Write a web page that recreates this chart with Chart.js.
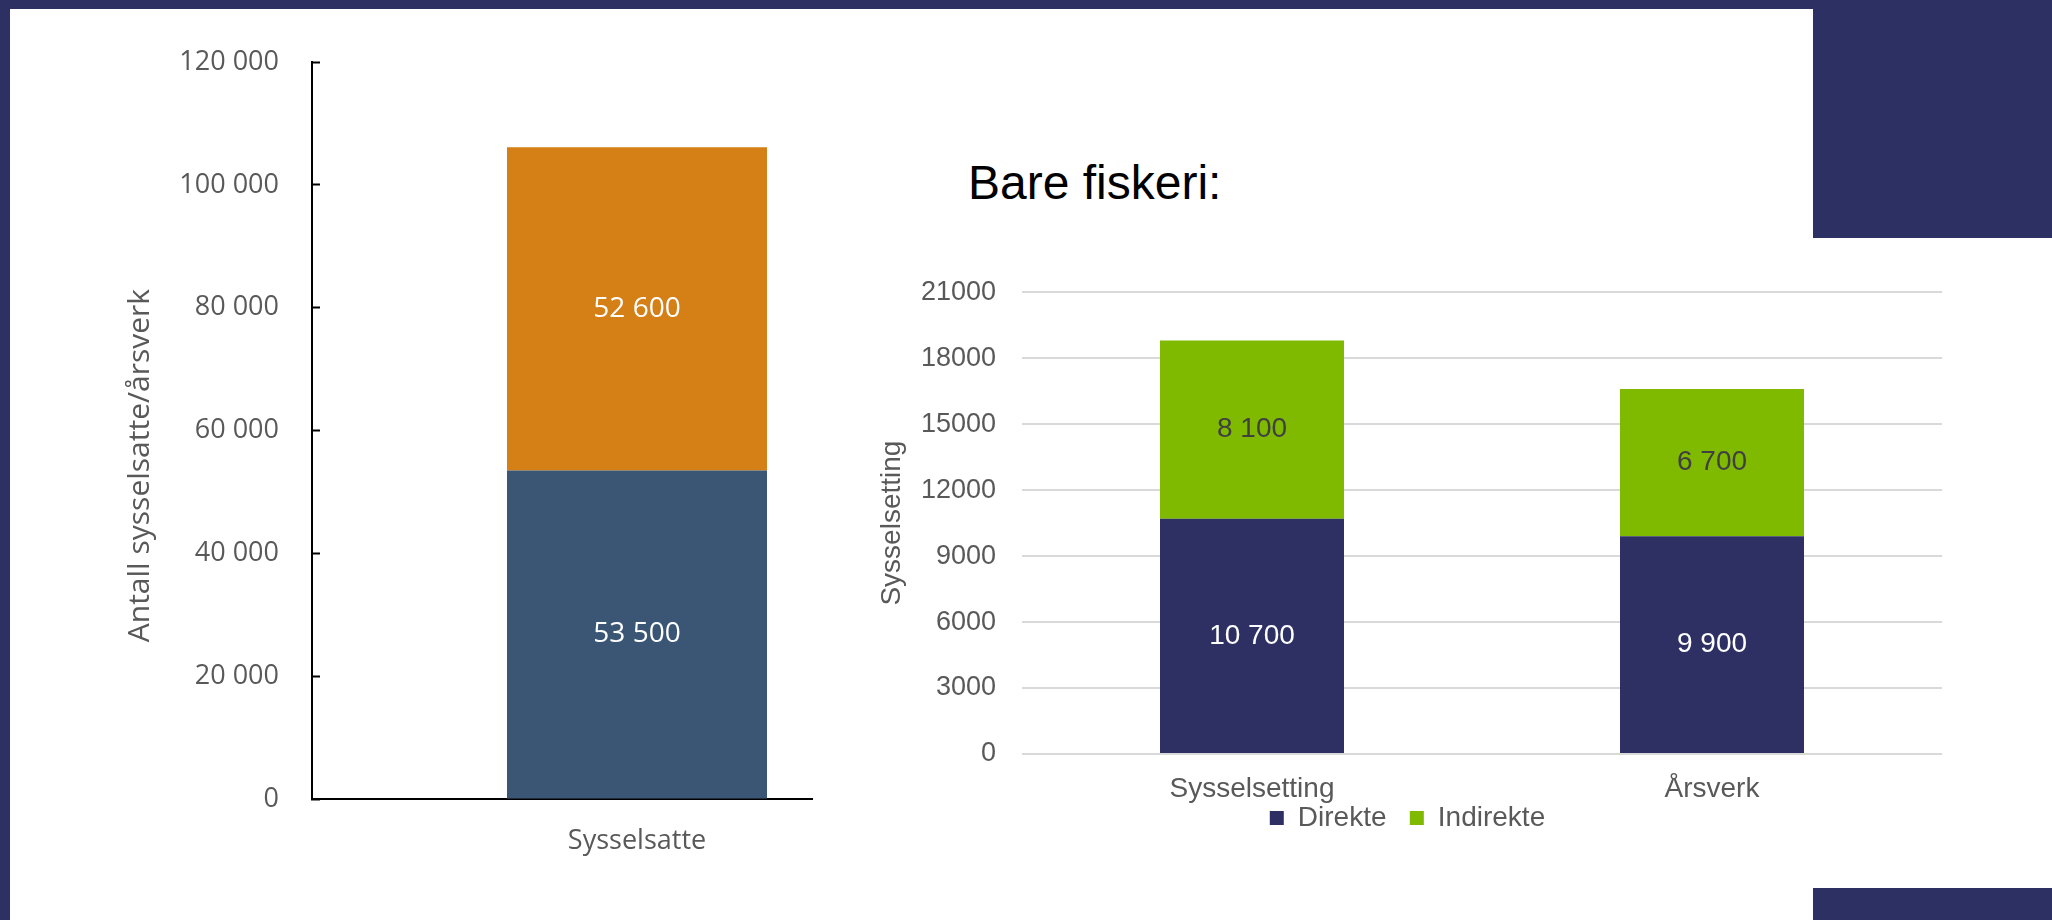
<!DOCTYPE html>
<html>
<head>
<meta charset="utf-8">
<script src="https://cdn.jsdelivr.net/npm/chart.js@4"></script>
<style>
  html, body { margin: 0; padding: 0; background: #fff; }
  body { width: 2052px; height: 920px; position: relative; overflow: hidden; }
  canvas { position: absolute; }
  #venstre { left: 0; top: 0; z-index: 1; }
  #hoyre { left: 813px; top: 250px; z-index: 2; background: #fff; }
  .ramme { position: absolute; background: #2D3063; z-index: 5; }
  #tittel { position: absolute; left: 968px; top: 159px; font: 48px "Liberation Sans", Arial, sans-serif; line-height: 1; color: #000; white-space: nowrap; }
</style>
</head>
<body>
<div class="ramme" style="left:0;top:0;width:2052px;height:9px"></div>
<div class="ramme" style="left:0;top:0;width:10px;height:920px"></div>
<div class="ramme" style="left:1813px;top:0;width:239px;height:238px"></div>
<div class="ramme" style="left:1813px;top:888px;width:239px;height:32px"></div>
<div id="tittel">Bare fiskeri:</div>
<canvas id="venstre" width="1000" height="920"></canvas>
<canvas id="hoyre" width="1147" height="610"></canvas>
<script>
// venstre figur: alle sysselsatte
const kategorierAlle = ["Sysselsatte"];
const direkteAlle = [53500];
const indirekteAlle = [52600];
const maksAlle = 120000;
const stegAlle = 20000;

// høyre figur: bare fiskeri
const kategorierFiskeri = ["Sysselsetting", "Årsverk"];
const direkteFiskeri = [10700, 9900];
const indirekteFiskeri = [8100, 6700];
const maksFiskeri = 21000;
const stegFiskeri = 3000;

function medMellomrom(v) {
    return String(v).replace(/\B(?=(\d{3})+(?!\d))/g, " ");
}

// skriver verdien midt i hvert søylesegment
const segmentTall = {
    id: "segmentTall",
    afterDatasetsDraw(chart, args, opts) {
        const ctx = chart.ctx;
        ctx.save();
        ctx.font = opts.font;
        ctx.textAlign = "center";
        ctx.textBaseline = "middle";
        chart.data.datasets.forEach((ds, i) => {
            const meta = chart.getDatasetMeta(i);
            meta.data.forEach((bar, j) => {
                ctx.fillStyle = ds.tallFarge;
                ctx.fillText(medMellomrom(ds.data[j]), bar.x, (bar.y + bar.base) / 2);
            });
        });
        ctx.restore();
    }
};

const gra = "#595959";
const calibriAktig = "'Open Sans', sans-serif";
const arial = "'Liberation Sans', Arial, sans-serif";

new Chart(document.getElementById("venstre").getContext("2d"), {
    type: "bar",
    data: {
        labels: kategorierAlle,
        datasets: [
            { label: "Direkte", data: direkteAlle, backgroundColor: "#3A5674", borderWidth: 0, tallFarge: "#fff" },
            { label: "Indirekte", data: indirekteAlle, backgroundColor: "#D57F17", borderWidth: 0, tallFarge: "#fff" }
        ]
    },
    plugins: [segmentTall],
    options: {
        responsive: false,
        animation: false,
        layout: { padding: { left: 20, top: 62, right: 38, bottom: 0 } },
        datasets: { bar: { categoryPercentage: 1, barPercentage: 0.4 } },
        plugins: {
            legend: { display: false },
            tooltip: { enabled: false },
            segmentTall: { font: "28px " + calibriAktig }
        },
        scales: {
            x: {
                stacked: true,
                grid: { display: false },
                border: { display: true, color: "#000", width: 2 },
                ticks: { color: gra, font: { family: calibriAktig, size: 27 }, padding: 18 },
                afterFit: s => { s.height = 121; }
            },
            y: {
                stacked: true,
                min: 0,
                max: maksAlle,
                grid: { display: true, drawOnChartArea: false, drawTicks: true, tickLength: -8, tickColor: "#000", tickWidth: 2 },
                border: { display: true, color: "#000", width: 2 },
                ticks: { stepSize: stegAlle, color: gra, font: { family: calibriAktig, size: 27 }, padding: 41,
                         callback: v => medMellomrom(v) },
                title: { display: true, text: "Antall sysselsatte/årsverk" + "\u00a0".repeat(9), color: gra,
                         font: { family: calibriAktig, size: 30 }, padding: { top: 102, bottom: 0 } },
                afterFit: s => { s.width = 292; }
            }
        }
    }
});

new Chart(document.getElementById("hoyre").getContext("2d"), {
    type: "bar",
    data: {
        labels: kategorierFiskeri,
        datasets: [
            { label: "Direkte", data: direkteFiskeri, backgroundColor: "#2E3064", borderWidth: 0, tallFarge: "#fff" },
            { label: "Indirekte", data: indirekteFiskeri, backgroundColor: "#7FBA00", borderWidth: 0, tallFarge: "#404040" }
        ]
    },
    plugins: [segmentTall],
    options: {
        responsive: false,
        animation: false,
        layout: { padding: { left: 60, top: 40, right: 18, bottom: 18 } },
        datasets: { bar: { categoryPercentage: 1, barPercentage: 0.4 } },
        plugins: {
            legend: {
                position: "bottom",
                labels: {
                    boxWidth: 14, boxHeight: 14, padding: 0, color: gra, font: { family: arial, size: 28 },
                    // litt luft etter første forklaring
                    generateLabels: chart => Chart.defaults.plugins.legend.labels.generateLabels(chart)
                        .map((l, i) => (i === 0 ? Object.assign(l, { text: l.text + "\u00a0\u00a0\u00a0" }) : l))
                }
            },
            tooltip: { enabled: false },
            segmentTall: { font: "28px " + arial }
        },
        scales: {
            x: {
                stacked: true,
                grid: { display: false },
                border: { display: false },
                ticks: { color: gra, font: { family: arial, size: 28 }, padding: 10 },
                afterFit: s => { s.height = 50; }
            },
            y: {
                stacked: true,
                min: 0,
                max: maksFiskeri,
                grid: { color: "#D9D9D9", lineWidth: 2, drawTicks: false },
                border: { display: false },
                ticks: { stepSize: stegFiskeri, color: gra, font: { family: arial, size: 27 }, padding: 26,
                         callback: v => String(v) },
                title: { display: true, text: "Sysselsetting", color: gra,
                         font: { family: arial, size: 28 }, padding: { top: 2, bottom: 0 } },
                afterFit: s => { s.width = 149; }
            }
        }
    }
});
</script>
</body>
</html>
